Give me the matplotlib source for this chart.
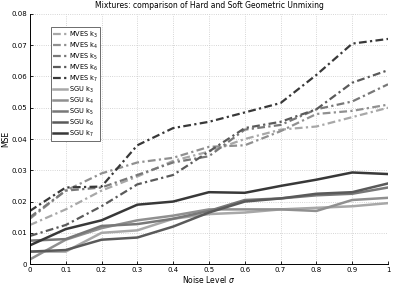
import numpy as np
import matplotlib
matplotlib.use('Agg')
import matplotlib.pyplot as plt

# noise levels
sigma = [0, 0.1, 0.2, 0.3, 0.4, 0.5, 0.6, 0.7, 0.8, 0.9, 1.0]

# MVES (hard unmixing), k = 3..7
mves_k3 = [0.0125, 0.0175, 0.0235, 0.028, 0.033, 0.036, 0.040, 0.043, 0.044, 0.047, 0.050]
mves_k4 = [0.0145, 0.0235, 0.029, 0.0325, 0.034, 0.0375, 0.038, 0.0425, 0.048, 0.049, 0.051]
mves_k5 = [0.015, 0.0235, 0.0245, 0.0285, 0.0325, 0.0345, 0.043, 0.0445, 0.0495, 0.052, 0.0575]
mves_k6 = [0.009, 0.0125, 0.0185, 0.0255, 0.0285, 0.036, 0.0435, 0.0455, 0.0495, 0.058, 0.062]
mves_k7 = [0.017, 0.0245, 0.0248, 0.038, 0.0435, 0.0455, 0.0485, 0.0515, 0.0605, 0.0705, 0.072]

# SGU (soft unmixing), k = 3..7
sgu_k3 = [0.004, 0.004, 0.0100, 0.0108, 0.0145, 0.016, 0.0165, 0.0175, 0.018, 0.0185, 0.0195]
sgu_k4 = [0.0015, 0.0078, 0.0115, 0.014, 0.0155, 0.0175, 0.0175, 0.0175, 0.017, 0.0205, 0.0212]
sgu_k5 = [0.0075, 0.008, 0.0122, 0.0128, 0.0145, 0.017, 0.0205, 0.021, 0.022, 0.0225, 0.0245]
sgu_k6 = [0.004, 0.0045, 0.0078, 0.0085, 0.012, 0.0165, 0.020, 0.021, 0.0225, 0.023, 0.0258]
sgu_k7 = [0.006, 0.0112, 0.014, 0.019, 0.020, 0.023, 0.0228, 0.025, 0.027, 0.0293, 0.0288]

mves = [mves_k3, mves_k4, mves_k5, mves_k6, mves_k7]
sgu = [sgu_k3, sgu_k4, sgu_k5, sgu_k6, sgu_k7]
ks = [3, 4, 5, 6, 7]
grays = ['#a8a8a8', '#909090', '#787878', '#5a5a5a', '#383838']

plt.rcParams['font.family'] = 'DejaVu Sans'
fig = plt.figure(figsize=(4.15, 2.84), dpi=100)
ax = fig.add_axes([0.072, 0.070, 0.863, 0.881])

for k, y, c in zip(ks, mves, grays):
    ax.plot(sigma, y, color=c, linewidth=1.6, linestyle=(0, (3.5, 1.5, 1, 1.5)),
            label='MVES k$_{%d}$' % k)
for k, y, c in zip(ks, sgu, grays):
    ax.plot(sigma, y, color=c, linewidth=1.8, linestyle='-', label='SGU k$_{%d}$' % k)

ax.set_xlim(0, 1)
ax.set_ylim(0, 0.08)
ax.set_xticks(sigma)
ax.set_xticklabels(['0', '0.1', '0.2', '0.3', '0.4', '0.5', '0.6', '0.7', '0.8', '0.9', '1'])
ax.set_yticks([0, 0.01, 0.02, 0.03, 0.04, 0.05, 0.06, 0.07, 0.08])
ax.set_yticklabels(['0', '0.01', '0.02', '0.03', '0.04', '0.05', '0.06', '0.07', '0.08'])
ax.tick_params(labelsize=5, direction='in', length=2, width=0.6, pad=2)
ax.grid(True, linestyle=':', color='#c8c8c8', linewidth=0.6)
ax.spines['top'].set_visible(False)
ax.spines['right'].set_visible(False)
ax.spines['left'].set_linewidth(0.7)
ax.spines['bottom'].set_linewidth(0.7)

ax.set_title('Mixtures: comparison of Hard and Soft Geometric Unmixing', fontsize=5.5, pad=4)
ax.set_xlabel('Noise Level $\\sigma$', fontsize=5.5, labelpad=1)
ax.set_ylabel('MSE', fontsize=5.5, labelpad=1)

leg = ax.legend(loc='upper left', bbox_to_anchor=(0.05, 0.96), fontsize=4.8, handlelength=2.0,
                labelspacing=0.12, handletextpad=0.3, borderpad=0.35, fancybox=False,
                framealpha=1)
leg.get_frame().set_edgecolor('#555555')
leg.get_frame().set_linewidth(0.6)

fig.savefig('out.png', dpi=100)
